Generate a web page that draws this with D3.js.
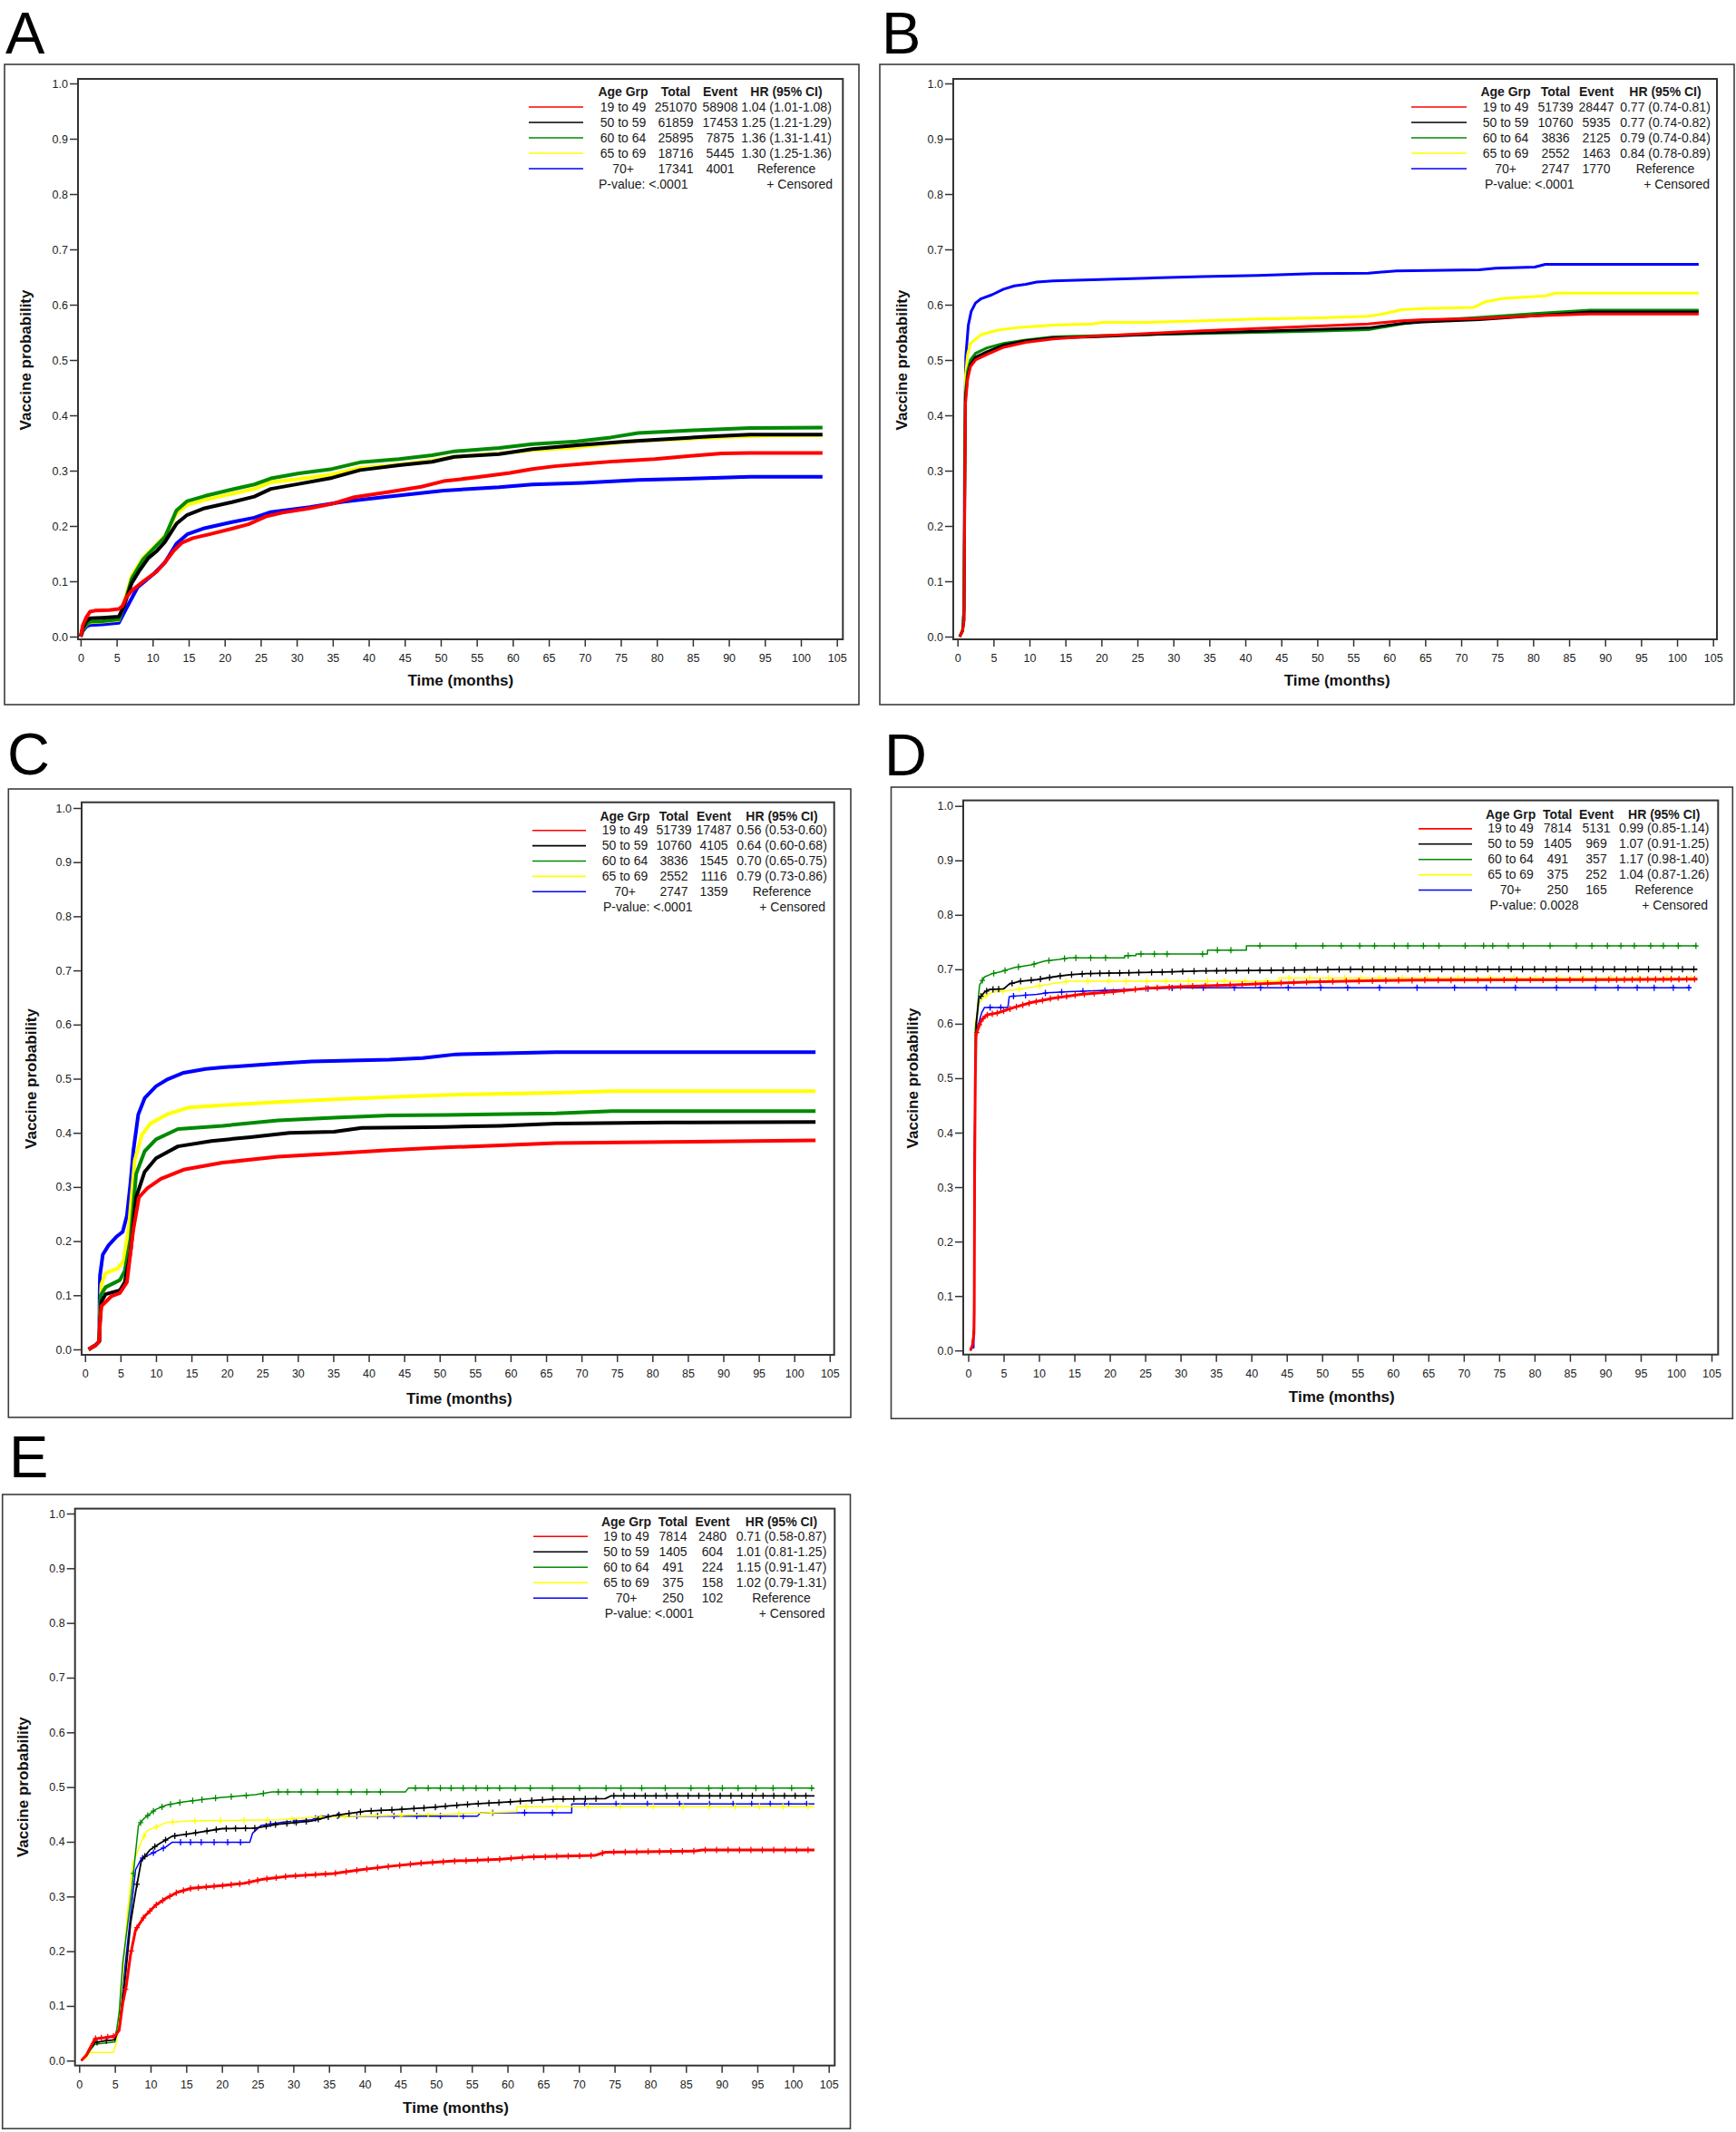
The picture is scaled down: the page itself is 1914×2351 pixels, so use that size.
<!DOCTYPE html>
<html><head><meta charset="utf-8">
<script src="https://cdn.jsdelivr.net/npm/d3@7"></script>
<style>
body{margin:0;background:#fff}
svg{display:block}
text{font-family:"Liberation Sans",Arial,Helvetica,sans-serif;fill:#1a1a1a}
</style>
</head><body>
<svg id="chart" width="1914" height="2351"></svg>
<script>
// ---------------- DATA ----------------
const ageGroups = ["19 to 49", "50 to 59", "60 to 64", "65 to 69", "70+"];
const xTickValues = [0, 5, 10, 15, 20, 25, 30, 35, 40, 45, 50, 55, 60, 65, 70, 75, 80, 85, 90, 95, 100, 105];
const yTickValues = [0.0, 0.1, 0.2, 0.3, 0.4, 0.5, 0.6, 0.7, 0.8, 0.9, 1.0];
const legendHeaders = ["Age Grp", "Total", "Event", "HR (95% CI)"];

// Panel A
const totalsA = ["251070", "61859", "25895", "18716", "17341"];
const eventsA = ["58908", "17453", "7875", "5445", "4001"];
const hrA = ["1.04 (1.01-1.08)", "1.25 (1.21-1.29)", "1.36 (1.31-1.41)", "1.30 (1.25-1.36)", "Reference"];
const pValueA = "<.0001";
const a1949 = [[0,0],[0.3,0.02],[0.8,0.035],[1.3,0.045],[2,0.047],[4,0.048],[5.3,0.05],[5.8,0.055],[6.3,0.07],[7.1,0.083],[8.7,0.1],[10.6,0.118],[11.7,0.134],[12.9,0.155],[14.1,0.17],[15.6,0.178],[17.9,0.185],[21,0.195],[23.3,0.203],[25.7,0.217],[28,0.224],[31.8,0.232],[34.9,0.24],[38,0.252],[42.6,0.261],[47.3,0.271],[50.4,0.281],[55,0.288],[59.6,0.296],[62.7,0.303],[65.8,0.308],[70.5,0.313],[74.3,0.317],[79.7,0.321],[85.1,0.327],[89,0.331],[92.9,0.332],[103,0.332]];
const a5059 = [[0,0],[0.3,0.015],[0.8,0.028],[1.3,0.033],[3,0.034],[5.3,0.036],[6,0.055],[7.1,0.097],[8.2,0.12],[9.4,0.142],[10.6,0.155],[11.7,0.171],[13.3,0.204],[14.8,0.22],[17.2,0.232],[21,0.243],[24.1,0.253],[26.4,0.267],[30.3,0.276],[34.9,0.287],[38.8,0.301],[44.2,0.31],[48.8,0.316],[51.9,0.325],[58.1,0.33],[62.7,0.339],[68.9,0.346],[75.1,0.352],[81.3,0.357],[87.5,0.362],[92.9,0.365],[103,0.365]];
const a6064 = [[0,0],[0.3,0.012],[0.8,0.022],[1.3,0.027],[3,0.028],[5.3,0.031],[6,0.055],[7.1,0.105],[8.7,0.14],[10.2,0.16],[11.7,0.18],[13.3,0.228],[14.8,0.245],[17.2,0.254],[21,0.266],[24.1,0.275],[26.4,0.286],[30.3,0.295],[34.9,0.303],[38.8,0.315],[44.2,0.321],[48.8,0.328],[51.9,0.335],[58.1,0.341],[62.7,0.348],[68.9,0.353],[73.6,0.36],[77.4,0.368],[85.1,0.373],[92.9,0.377],[103,0.378]];
const a6569 = [[0,0],[0.3,0.012],[0.8,0.022],[1.3,0.026],[3,0.027],[5.3,0.03],[6,0.06],[7.1,0.11],[8.7,0.143],[10.2,0.162],[11.7,0.182],[13.3,0.222],[14.8,0.238],[17.2,0.247],[21,0.258],[24.1,0.267],[26.4,0.279],[30.3,0.285],[34.9,0.293],[38.8,0.305],[44.2,0.311],[48.8,0.318],[51.9,0.325],[58.1,0.331],[62.7,0.337],[68.9,0.342],[73.6,0.349],[77.4,0.354],[85.1,0.358],[90,0.361],[95,0.363],[103,0.364]];
const a70 = [[0,0],[0.3,0.01],[0.8,0.018],[1.3,0.021],[3,0.022],[5.3,0.025],[6.3,0.05],[7.9,0.089],[10.2,0.114],[11.7,0.134],[13.3,0.168],[14.8,0.185],[17.2,0.196],[21,0.207],[24.1,0.215],[26.4,0.225],[31.8,0.234],[36.5,0.244],[42.6,0.253],[50.4,0.264],[58.1,0.27],[62.7,0.275],[69.7,0.278],[77.4,0.283],[85.9,0.286],[92.9,0.289],[103,0.289]];

// Panel B
const totalsB = ["51739", "10760", "3836", "2552", "2747"];
const eventsB = ["28447", "5935", "2125", "1463", "1770"];
const hrB = ["0.77 (0.74-0.81)", "0.77 (0.74-0.82)", "0.79 (0.74-0.84)", "0.84 (0.78-0.89)", "Reference"];
const pValueB = "<.0001";
const b1949 = [[0.3,0],[0.7,0.01],[0.9,0.03],[1.0,0.23],[1.1,0.42],[1.4,0.465],[1.8,0.488],[2.5,0.5],[4.1,0.51],[6.4,0.523],[9.5,0.532],[13.3,0.538],[18.7,0.543],[26.4,0.548],[34,0.553],[41.7,0.557],[49.4,0.561],[57.1,0.565],[61.7,0.571],[64.8,0.573],[72.5,0.575],[80.2,0.58],[87.9,0.583],[103,0.583]];
const b5059 = [[0.3,0],[0.7,0.01],[0.9,0.03],[1.0,0.25],[1.1,0.43],[1.4,0.47],[1.8,0.492],[2.5,0.505],[4.1,0.515],[6.4,0.527],[9.5,0.535],[13.3,0.54],[18.7,0.542],[26.4,0.546],[34,0.549],[41.7,0.552],[49.4,0.555],[57.1,0.558],[61.7,0.566],[64.8,0.569],[72.5,0.573],[80.2,0.58],[87.9,0.587],[103,0.587]];
const b6064 = [[0.3,0],[0.7,0.012],[0.9,0.05],[1.0,0.26],[1.1,0.44],[1.4,0.48],[1.8,0.5],[2.5,0.512],[4.1,0.522],[6.4,0.53],[9.5,0.536],[13.3,0.542],[18.7,0.544],[26.4,0.546],[34,0.548],[41.7,0.55],[49.4,0.552],[57.1,0.555],[61.7,0.565],[64.8,0.571],[72.5,0.577],[80.2,0.584],[87.9,0.59],[103,0.59]];
const b6569 = [[0.3,0],[0.7,0.01],[0.9,0.04],[1.0,0.3],[1.1,0.47],[1.4,0.51],[1.8,0.53],[3.3,0.546],[5.6,0.554],[7.9,0.558],[13.3,0.563],[18.7,0.565],[20.2,0.568],[26.4,0.568],[34,0.571],[41.7,0.574],[49.4,0.576],[57.1,0.579],[59.4,0.584],[61.7,0.591],[64.8,0.593],[71.7,0.595],[73.3,0.605],[75.6,0.611],[81.7,0.616],[83.2,0.621],[103,0.621]];
const b70 = [[0.3,0],[0.7,0.01],[0.9,0.05],[1.0,0.38],[1.15,0.506],[1.5,0.563],[1.9,0.588],[2.5,0.603],[3.3,0.611],[4.8,0.618],[6.4,0.628],[7.9,0.634],[9.5,0.637],[11,0.641],[13.3,0.643],[18.7,0.645],[26.4,0.648],[34,0.651],[41.7,0.653],[49.4,0.656],[57.1,0.657],[61,0.661],[72.5,0.663],[74.8,0.666],[80.2,0.668],[81.7,0.673],[103,0.673]];

// Panel C
const totalsC = ["51739", "10760", "3836", "2552", "2747"];
const eventsC = ["17487", "4105", "1545", "1116", "1359"];
const hrC = ["0.56 (0.53-0.60)", "0.64 (0.60-0.68)", "0.70 (0.65-0.75)", "0.79 (0.73-0.86)", "Reference"];
const pValueC = "<.0001";
const c1949 = [[0.5,0],[1.5,0.008],[2.0,0.015],[2.1,0.05],[2.3,0.08],[3.7,0.098],[4.9,0.104],[5.9,0.124],[6.8,0.221],[7.6,0.281],[8.8,0.298],[10.7,0.315],[13.9,0.332],[19.4,0.345],[27.2,0.356],[35.1,0.362],[42.9,0.368],[50.7,0.373],[58.6,0.377],[66.4,0.381],[82.1,0.383],[103,0.386]];
const c5059 = [[0.5,0],[1.5,0.008],[2.0,0.015],[2.1,0.05],[2.3,0.088],[2.9,0.102],[4.9,0.109],[5.6,0.124],[6.4,0.179],[7.2,0.281],[8.4,0.328],[10,0.353],[13.1,0.375],[17.8,0.385],[23.3,0.392],[28.8,0.4],[35.1,0.402],[39,0.409],[50.7,0.411],[58.6,0.413],[66.4,0.417],[82.1,0.419],[103,0.42]];
const c6064 = [[0.5,0],[1.5,0.008],[2.0,0.015],[2.1,0.06],[2.2,0.1],[2.9,0.115],[4.9,0.128],[5.6,0.145],[6.4,0.204],[7.2,0.324],[8.4,0.366],[10,0.388],[13.1,0.407],[19.4,0.413],[27.2,0.423],[35.1,0.428],[42.9,0.432],[50.7,0.433],[66.4,0.436],[74.3,0.44],[103,0.44]];
const c6569 = [[0.5,0],[1.5,0.008],[2.0,0.015],[2.1,0.07],[2.3,0.12],[2.9,0.141],[4.5,0.149],[5.4,0.162],[6.2,0.23],[7,0.349],[8,0.396],[9.2,0.417],[11.5,0.434],[14.7,0.447],[19.4,0.451],[27.2,0.457],[35.1,0.462],[42.9,0.466],[50.7,0.47],[66.4,0.474],[74.3,0.477],[103,0.477]];
const c70 = [[0.5,0],[1.5,0.008],[2.0,0.015],[2.05,0.1],[2.1,0.136],[2.5,0.175],[3.3,0.192],[4.5,0.209],[5.3,0.217],[5.9,0.247],[6.4,0.307],[6.8,0.366],[7.5,0.434],[8.4,0.464],[10,0.486],[11.5,0.498],[13.9,0.511],[17,0.518],[19.4,0.521],[27.2,0.528],[31.9,0.532],[42.9,0.535],[47.6,0.538],[52.3,0.545],[66.4,0.549],[103,0.549]];

// Panel D
const totalsD = ["7814", "1405", "491", "375", "250"];
const eventsD = ["5131", "969", "357", "252", "165"];
const hrD = ["0.99 (0.85-1.14)", "1.07 (0.91-1.25)", "1.17 (0.98-1.40)", "1.04 (0.87-1.26)", "Reference"];
const pValueD = "0.0028";
const d1949 = [[0.3,0],[0.6,0.01],[0.8,0.03],[0.85,0.07],[0.9,0.32],[1.0,0.5],[1.1,0.58],[1.5,0.595],[1.9,0.607],[2.6,0.616],[4.2,0.62],[6.5,0.63],[8.9,0.639],[12,0.647],[15.9,0.654],[20.6,0.659],[25.2,0.665],[29.9,0.668],[36.9,0.671],[40.8,0.673],[48.6,0.677],[56.4,0.679],[64.2,0.68],[91.4,0.681],[103,0.682]];
const d5059 = [[0.3,0],[0.6,0.01],[0.8,0.04],[0.9,0.35],[1.0,0.5],[1.15,0.6],[1.5,0.646],[2.3,0.658],[3,0.663],[5,0.664],[5.8,0.673],[7.3,0.678],[9.7,0.681],[12,0.686],[14.3,0.69],[16.7,0.692],[27.6,0.695],[33,0.697],[40.8,0.698],[54.8,0.7],[103,0.7]];
const d6064 = [[0.3,0],[0.6,0.01],[0.8,0.04],[0.9,0.3],[1.0,0.59],[1.25,0.62],[1.6,0.671],[2.3,0.686],[3.4,0.692],[5,0.697],[6.5,0.703],[8.9,0.708],[10.8,0.715],[12.8,0.718],[14.3,0.721],[22.1,0.721],[22.1,0.725],[23.7,0.725],[23.7,0.728],[33.8,0.728],[33.8,0.735],[39.3,0.735],[39.3,0.743],[103,0.743]];
const d6569 = [[0.3,0],[0.6,0.01],[0.8,0.04],[0.9,0.3],[1.0,0.6],[1.5,0.637],[2.3,0.65],[3.4,0.658],[5.8,0.661],[8.9,0.667],[12,0.674],[14.3,0.678],[43.9,0.678],[43.9,0.684],[103,0.684]];
const d70 = [[0.3,0],[0.6,0.005],[0.8,0.005],[0.85,0.3],[1.0,0.58],[1.9,0.62],[2.3,0.63],[5.6,0.63],[5.8,0.65],[9.7,0.654],[11.2,0.657],[14.3,0.659],[17.1,0.66],[24.5,0.664],[29.9,0.666],[102,0.666]];
const dCens1949 = [1.2,1.6,2.1,2.7,3.4,4.1,5,5.9,6.8,7.7,8.6,9.6,10.5,11.6,12.7,13.9,15.1,16.4,17.8,19.2,20.5,22,23.6,25.1,26.7,28.4,30,31.7,33.5,35.2,37,38.7,40.6,42.3,44.2,46,47.8,49.7,51.5,53.4,55.2,57.1,59,60.8,62.7,64.5,66.4,68.2,70.1,72,73.8,75.7,77.5,79.4,81.2,83.1,85,86.8,88.7,90.5,91.6,92.7,93.8,94.9,96,97.1,98.2,99.3,100.4,101.5,102.6];
const dCens5059 = [1.8,2.6,3.5,4.3,6.2,7.4,8.9,10.2,11.5,13,14.6,16.1,17.3,18.6,19.9,21.4,22.7,24.1,25.9,27.4,28.8,30.3,31.9,33.6,35.1,36.4,37.9,39.6,41.2,42.8,44.5,46.1,47.5,49.3,50.8,52.4,54,55.7,57.3,58.9,60.4,62.1,63.8,65.2,66.9,68.6,70.1,71.8,73.4,75,76.7,78.3,80,81.6,83.1,84.8,86.5,88.1,89.7,91.3,92.9,94.6,96.1,97.8,99.4,100.9,102.5];
const dCens6064 = [2,3.6,5.2,7.1,9.3,11.4,13.6,15.2,17.3,19.4,22.6,24.4,26.3,28.1,33.1,35.2,37.1,41.2,46.3,50.1,52.7,55.3,57.4,60.2,62.1,64.3,66.5,70.2,72.8,74.1,76.3,78.4,82.2,85.9,88.1,90.3,92.2,94.1,96.4,98.2,100.3,102.8];
const dCens6569 = [2.5,4.9,7.2,10.1,13.8,16.9,19.8,22.3,25.2,27.9,31.1,33.8,36.2,39.1,42.1,45.3,48.2,50.9,53.2,55.4,58.1,61.3,64.8,69.2,73.6,77.1,80.2,83.4,86.9,90.8,94.6,98.7,102.1];
const dCens70 = [3.1,4.6,6.4,8.1,10.9,13.2,16.2,19.3,25.4,28.8,33.2,37.6,41.3,45.2,49.8,53.6,58.1,63.4,68.7,73.2,77.3,83.1,88.6,91.8,94.5,96.9,99.6,101.8];

// Panel E
const totalsE = ["7814", "1405", "491", "375", "250"];
const eventsE = ["2480", "604", "224", "158", "102"];
const hrE = ["0.71 (0.58-0.87)", "1.01 (0.81-1.25)", "1.15 (0.91-1.47)", "1.02 (0.79-1.31)", "Reference"];
const pValueE = "<.0001";
const e1949 = [[0.3,0],[1,0.01],[1.6,0.025],[2.2,0.04],[3.5,0.042],[5,0.045],[5.6,0.055],[6.1,0.104],[6.6,0.137],[7.2,0.194],[7.9,0.239],[9.1,0.263],[10.7,0.284],[12.2,0.297],[13.8,0.308],[15.7,0.315],[20,0.32],[23.1,0.324],[25.5,0.331],[29.3,0.337],[35.6,0.342],[39.5,0.349],[43.4,0.355],[48,0.361],[52.7,0.365],[58.9,0.368],[62.8,0.372],[72.2,0.375],[73.7,0.381],[86.2,0.383],[87.3,0.385],[103,0.385]];
const e5059 = [[0.3,0],[1,0.01],[1.6,0.022],[2.2,0.033],[3.5,0.036],[5,0.038],[5.6,0.06],[6.4,0.145],[7.2,0.251],[7.9,0.308],[8.7,0.365],[9.9,0.385],[11.4,0.398],[13,0.41],[16.1,0.416],[20,0.424],[24.7,0.425],[27.8,0.432],[32.5,0.438],[35.6,0.448],[40.2,0.456],[44.9,0.459],[49.6,0.463],[55,0.469],[60.5,0.473],[66.7,0.478],[73.7,0.479],[74.5,0.484],[103,0.484]];
const e6064 = [[0.3,0],[1,0.008],[1.6,0.02],[2.2,0.03],[3.5,0.032],[5,0.034],[5.6,0.088],[6.1,0.178],[6.8,0.251],[7.4,0.316],[7.9,0.381],[8.3,0.43],[9.1,0.443],[10.7,0.459],[12.2,0.467],[14.6,0.473],[17.7,0.478],[20,0.481],[24.7,0.486],[27,0.491],[45.7,0.491],[46.1,0.498],[103,0.498]];
const e6569 = [[0.3,0],[1,0.005],[1.5,0.015],[4.8,0.015],[5.2,0.031],[6,0.137],[6.8,0.275],[7.5,0.36],[8.7,0.4],[9.5,0.42],[12.2,0.435],[15.3,0.438],[27.8,0.44],[33.2,0.445],[43.4,0.448],[51.1,0.45],[61.3,0.455],[61.3,0.464],[103,0.464]];
const e70 = [[0.3,0],[1,0.01],[1.6,0.025],[2.2,0.04],[3.5,0.042],[5,0.043],[5.6,0.07],[6.4,0.17],[7.2,0.267],[7.9,0.349],[8.7,0.369],[9.9,0.377],[12.2,0.391],[13,0.399],[23.9,0.399],[24.3,0.416],[25.5,0.43],[28.6,0.436],[32.5,0.44],[34,0.447],[55.8,0.447],[56.2,0.453],[69,0.453],[69,0.469],[103,0.469]];
const eCens1949 = [2.3,3.1,4,4.8,6.5,7.3,8.1,9,9.9,10.8,11.7,12.7,13.6,14.6,15.6,16.7,17.8,18.9,20.1,21.3,22.5,23.8,25,26.3,27.6,28.9,30.3,31.7,33.1,34.5,35.9,37.4,38.9,40.3,41.8,43.3,44.9,46.4,47.9,49.5,51,52.6,54.2,55.8,57.3,58.9,60.5,62.1,63.7,65.3,66.9,68.5,70.1,71.7,73.3,74.9,76.5,78.1,79.7,81.3,82.9,84.5,86.1,87.7,89.3,90.9,92.5,94.1,95.7,97.3,98.9,100.5,102.1];
const eCens5059 = [2.5,3.8,8.1,9.2,10.6,12.1,13.4,15,16.3,17.9,19.2,20.6,21.9,23.3,24.6,26.2,27.5,29.1,30.4,31.8,33.5,34.9,36.4,37.8,39.4,40.9,42.3,43.8,45.2,46.9,48.3,49.9,51.3,52.9,54.4,55.9,57.4,58.8,60.4,61.8,63.4,64.9,66.4,67.8,69.3,70.9,72.4,74.9,76.3,77.8,79.3,80.8,82.3,83.8,85.3,86.8,88.3,89.8,91.3,92.8,94.3,95.8,97.3,98.8,100.3,101.8];
const eCens6064 = [7.6,8.6,9.6,10.4,11.6,12.8,14.1,15.9,17.2,19.1,21.3,23.4,25.8,27.9,29.2,31.1,33.4,36.2,38.1,40.3,42.2,47.1,48.9,50.6,52.1,53.8,55.6,57.2,58.9,61.1,63.2,66.3,70.1,73.8,75.9,78.8,82.1,85.7,88.2,90.1,92.3,94.8,97.2,99.8,102.6];
const eCens6569 = [9.1,10.8,13.1,16.2,19.8,23.1,26.4,29.8,33.9,37.2,41.6,45.1,48.9,53.2,57.8,62.6,66.9,71.3,75.8,80.4,84.6,88.2,91.9,95.3,98.6,102.1];
const eCens70 = [8.9,10.4,11.8,14.2,15.6,17.1,18.9,20.8,22.6,26.8,30.1,33.1,36.2,38.9,41.8,44.1,47.3,50.6,53.8,57.9,62.4,66.3,70.8,75.2,79.6,84.1,88.3,91.6,94.2,96.8,99.4,101.9];

// ---------------- STYLE / LAYOUT ----------------
const seriesColors = ["#ff0000", "#000000", "#008a00", "#ffff00", "#0000ff"];

const panels = [
  { label: "A", curves: [a1949, a5059, a6064, a6569, a70], totals: totalsA, events: eventsA, hr: hrA, p: pValueA,
    widths: [4, 4, 4, 4, 4], censors: null,
    L: { box: [5, 71, 947, 777], frame: [86, 87, 929.3, 705], x0: 88.9, x105: 922.7, y0: 702, y1: 92,
         letter: [6, 59], ylabX: 27.5, xlabY: 756,
         lg: { headY: 106, rowY: 122.5, dy: 17, lineX: [583, 643], cols: [687, 745, 794, 867], pX: 660, cX: 918 } } },
  { label: "B", curves: [b1949, b5059, b6064, b6569, b70], totals: totalsB, events: eventsB, hr: hrB, p: pValueB,
    widths: [3, 3, 3, 3, 3], censors: null,
    L: { box: [970, 71, 1912, 777], frame: [1051, 87, 1893, 705], x0: 1055.7, x105: 1888.7, y0: 702, y1: 92,
         letter: [972, 59], ylabX: 993.5, xlabY: 756,
         lg: { headY: 106, rowY: 122.5, dy: 17, lineX: [1556, 1617], cols: [1660, 1715, 1760, 1836], pX: 1637, cX: 1885 } } },
  { label: "C", curves: [c1949, c5059, c6064, c6569, c70], totals: totalsC, events: eventsC, hr: hrC, p: pValueC,
    widths: [4, 4, 4, 4, 4], censors: null,
    L: { box: [9.3, 870, 938, 1563], frame: [90, 884.7, 919.7, 1494], x0: 93.8, x105: 914.8, y0: 1488, y1: 891,
         letter: [8, 854], ylabX: 33.7, xlabY: 1548,
         lg: { headY: 904.7, rowY: 920.2, dy: 16.9, lineX: [587, 646], cols: [689, 743, 787, 862], pX: 665, cX: 910 } } },
  { label: "D", curves: [d1949, d5059, d6064, d6569, d70], totals: totalsD, events: eventsD, hr: hrD, p: pValueD,
    widths: [3, 1.8, 1.5, 1.5, 1.5], censors: [dCens1949, dCens5059, dCens6064, dCens6569, dCens70],
    L: { box: [982.5, 868, 1910.3, 1564.3], frame: [1062, 882.6, 1894.3, 1493.7], x0: 1067.5, x105: 1887, y0: 1489.2, y1: 888.7,
         letter: [975, 855], ylabX: 1005.6, xlabY: 1546,
         lg: { headY: 902.6, rowY: 918.4, dy: 16.9, lineX: [1564, 1623], cols: [1665.6, 1717.3, 1760, 1834.7], pX: 1642.5, cX: 1883 } } },
  { label: "E", curves: [e1949, e5059, e6064, e6569, e70], totals: totalsE, events: eventsE, hr: hrE, p: pValueE,
    widths: [3, 1.8, 1.5, 1.5, 1.5], censors: [eCens1949, eCens5059, eCens6064, eCens6569, eCens70],
    L: { box: [2.7, 1648, 937.5, 2347.3], frame: [82.7, 1663.6, 920.3, 2277.7], x0: 87.3, x105: 913.7, y0: 2272.3, y1: 1669,
         letter: [10, 1629], ylabX: 24.5, xlabY: 2329.5,
         lg: { headY: 1682.5, rowY: 1698.7, dy: 17, lineX: [588, 648], cols: [690.5, 742, 785.5, 861.5], pX: 666.7, cX: 909.5 } } }
];

// ---------------- DRAW ----------------
const svg = d3.select("#chart");
svg.append("rect").attr("width", 1914).attr("height", 2351).attr("fill", "#fff");

function interpAt(curve, t) {
  const i = d3.bisector(d => d[0]).right(curve, t);
  if (i <= 0) return curve[0][1];
  if (i >= curve.length) return curve[curve.length - 1][1];
  const a = curve[i - 1], b = curve[i];
  if (b[0] === a[0]) return b[1];
  return a[1] + (b[1] - a[1]) * (t - a[0]) / (b[0] - a[0]);
}

panels.forEach(P => {
  const L = P.L;
  const g = svg.append("g");
  // outer box
  g.append("rect").attr("x", L.box[0]).attr("y", L.box[1])
    .attr("width", L.box[2] - L.box[0]).attr("height", L.box[3] - L.box[1])
    .attr("fill", "none").attr("stroke", "#3c3c3c").attr("stroke-width", 1.6);
  // letter
  g.append("text").attr("x", L.letter[0]).attr("y", L.letter[1])
    .attr("font-size", 65).style("fill", "#000").text(P.label);

  const x = d3.scaleLinear().domain([0, 105]).range([L.x0, L.x105]);
  const y = d3.scaleLinear().domain([0, 1]).range([L.y0, L.y1]);

  // axes
  const xAxis = d3.axisBottom(x).tickValues(xTickValues).tickSize(8).tickPadding(8).tickFormat(d3.format("d"));
  const gx = g.append("g").attr("transform", `translate(0,${L.frame[3]})`).call(xAxis);
  const yAxis = d3.axisLeft(y).tickValues(yTickValues).tickSize(9).tickPadding(2).tickFormat(d3.format(".1f"));
  const gy = g.append("g").attr("transform", `translate(${L.frame[0]},0)`).call(yAxis);
  [gx, gy].forEach(a => {
    a.select(".domain").remove();
    a.selectAll(".tick line").attr("stroke", "#333").attr("stroke-width", 1.5);
    a.selectAll(".tick text").attr("font-size", 12.5).attr("font-family", "Liberation Sans, Arial, sans-serif").style("fill", "#222");
  });

  // curves (70+ drawn first, 19 to 49 last)
  const line = d3.line().x(d => x(d[0])).y(d => y(d[1])).curve(d3.curveLinear);
  const order = [4, 3, 2, 1, 0];
  order.forEach(i => {
    g.append("path").datum(P.curves[i]).attr("d", line)
      .attr("fill", "none").attr("stroke", seriesColors[i])
      .attr("stroke-width", P.widths[i]).attr("stroke-linejoin", "round");
    if (P.censors) {
      const cs = P.censors[i];
      g.append("g").selectAll("path").data(cs).join("path")
        .attr("transform", t => `translate(${x(t)},${y(interpAt(P.curves[i], t))})`)
        .attr("d", "M-3,0H3M0,-3.5V3.5")
        .attr("stroke", seriesColors[i]).attr("stroke-width", 1.3).attr("fill", "none");
    }
  });

  // frame on top
  g.append("rect").attr("x", L.frame[0]).attr("y", L.frame[1])
    .attr("width", L.frame[2] - L.frame[0]).attr("height", L.frame[3] - L.frame[1])
    .attr("fill", "none").attr("stroke", "#333").attr("stroke-width", 2);

  // axis labels
  g.append("text").attr("x", (L.x0 + L.x105) / 2 + 2).attr("y", L.xlabY)
    .attr("text-anchor", "middle").attr("font-size", 17).attr("font-weight", "bold")
    .style("fill", "#111").text("Time (months)");
  const ym = (L.y0 + L.y1) / 2;
  g.append("text").attr("transform", `translate(${L.ylabX + 6},${ym}) rotate(-90)`)
    .attr("text-anchor", "middle").attr("font-size", 17).attr("font-weight", "bold")
    .style("fill", "#111").text("Vaccine probability");

  // legend
  const lg = L.lg;
  const leg = g.append("g").attr("font-size", 14);
  legendHeaders.forEach((h, k) => {
    leg.append("text").attr("x", lg.cols[k]).attr("y", lg.headY).attr("text-anchor", "middle")
      .attr("font-weight", "bold").attr("font-size", 14).text(h);
  });
  ageGroups.forEach((a, i) => {
    const yy = lg.rowY + i * lg.dy;
    leg.append("line").attr("x1", lg.lineX[0]).attr("x2", lg.lineX[1])
      .attr("y1", yy - 4.5).attr("y2", yy - 4.5)
      .attr("stroke", seriesColors[i]).attr("stroke-width", 1.6);
    const vals = [a, P.totals[i], P.events[i], P.hr[i]];
    vals.forEach((v, k) => {
      leg.append("text").attr("x", lg.cols[k]).attr("y", yy).attr("text-anchor", "middle").text(v);
    });
  });
  const yp = lg.rowY + 5 * lg.dy;
  leg.append("text").attr("x", lg.pX).attr("y", yp).text("P-value: " + P.p);
  leg.append("text").attr("x", lg.cX).attr("y", yp).attr("text-anchor", "end").text("+  Censored");
});
</script>
</body></html>
